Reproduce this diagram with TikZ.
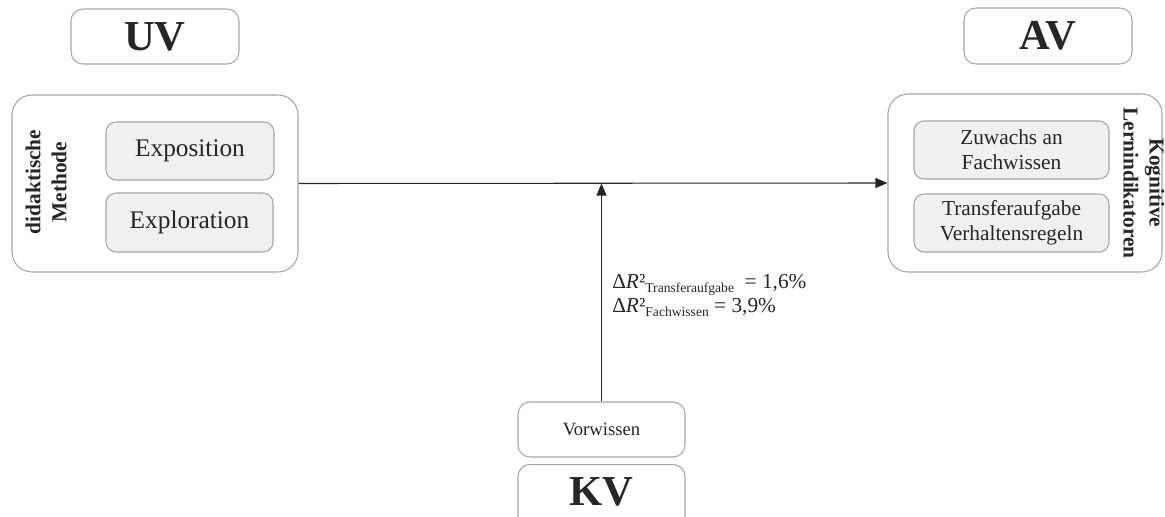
\documentclass[tikz,border=0pt]{standalone}
\usepackage{fontspec}
\setmainfont{Liberation Serif}
\usetikzlibrary{arrows.meta}
\definecolor{boxline}{HTML}{A6A6A6}
\definecolor{innerfill}{HTML}{F0F0F0}
\definecolor{ink}{HTML}{262626}
\begin{document}
\begin{tikzpicture}[x=0.75pt,y=-0.75pt,
  labelbox/.style={draw=boxline,line width=0.8pt,fill=white,rounded corners=9pt,inner sep=0pt,text=ink,
    font=\fontsize{32}{36}\selectfont\bfseries},
  groupbox/.style={draw=boxline,line width=0.8pt,fill=white,rounded corners=15pt,inner sep=0pt},
  itembox/.style={draw=boxline,line width=0.8pt,fill=innerfill,rounded corners=7.5pt,inner sep=0pt,
    text=ink,align=center},
  grouptitle/.style={text=ink,align=center,font=\fontsize{16}{19.5}\selectfont\bfseries},
  link/.style={draw=ink,line width=0.8pt,-{Triangle[length=9pt,width=7.5pt]}}]
\useasboundingbox (0,0) rectangle (1165,517);
\clip (0,0) rectangle (1165,517);

% headings
\node[labelbox,minimum width=126pt,minimum height=41.25pt] (uv) at (155,36.5) {UV};
\node[labelbox,minimum width=126pt,minimum height=42pt] (av) at (1048,36) {AV};

% independent variable
\node[groupbox,minimum width=214.5pt,minimum height=132.75pt] (left) at (155,183.5) {};
\node[itembox,minimum width=126pt,minimum height=43.5pt,font=\fontsize{19}{22}\selectfont] (expo) at (190,151) {Exposition};
\node[itembox,minimum width=125.25pt,minimum height=44.25pt,font=\fontsize{19}{22}\selectfont] (explo) at (189.5,222.5) {Exploration};
\node[grouptitle,rotate=90] (lefttitle) at (46,182) {didaktische\\Methode};

% dependent variable
\node[groupbox,minimum width=205.5pt,minimum height=133.5pt] (right) at (1025,183) {};
\node[itembox,minimum width=146.25pt,minimum height=43.5pt,font=\fontsize{16}{18.75}\selectfont] (zuwachs) at (1011.5,150) {Zuwachs an\\Fachwissen};
\node[itembox,minimum width=146.25pt,minimum height=43.5pt,font=\fontsize{16}{18.75}\selectfont] (transfer) at (1011.5,223) {Transferaufgabe\\Verhaltensregeln};
\node[grouptitle,rotate=-90] (righttitle) at (1144,183) {Kognitive\\Lernindikatoren};

% covariate
\node[labelbox,font=\fontsize{14}{16}\selectfont,minimum width=125.25pt,minimum height=41.25pt] (vor) at (601.5,429.5) {Vorwissen};
\node[labelbox,minimum width=125.25pt,minimum height=49.5pt,anchor=north] (kv) at (601.5,464) {};
\node[text=ink,font=\fontsize{32}{36}\selectfont\bfseries] (kvtext) at (601.5,492) {KV};

% effects
\coordinate (meet) at (vor.north |- left.east);
\draw[link] (left.east) -- (right.west);
\draw[link] (vor.north) -- (meet);

\node[anchor=base west,text=ink,align=left,font=\fontsize{16}{18}\selectfont,inner sep=0pt] (delta) at (612,312)
  {Δ\textit{R}²\raisebox{-0.45ex}{\fontsize{10.2}{11}\selectfont Transferaufgabe}\ \ = 1,6\%\\
   Δ\textit{R}²\raisebox{-0.45ex}{\fontsize{10.2}{11}\selectfont Fachwissen} = 3,9\%};
\end{tikzpicture}
\end{document}
